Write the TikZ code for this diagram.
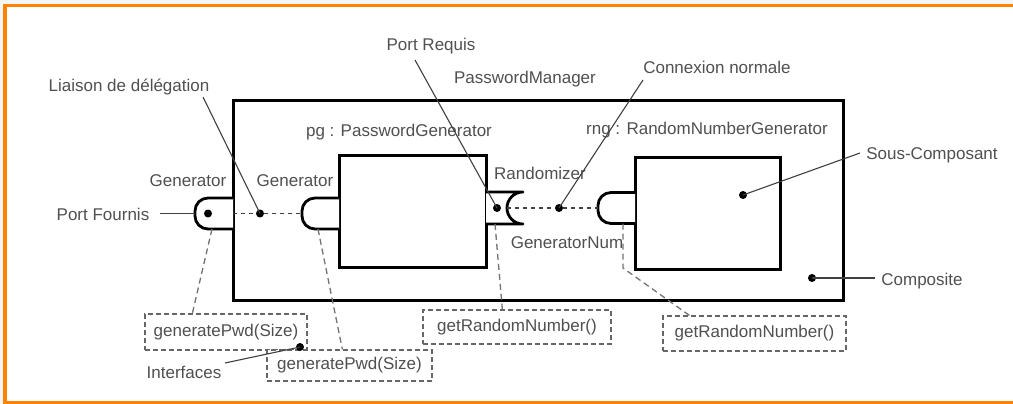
\documentclass[tikz,border=0pt]{standalone}
\usepackage{fontspec}
\newfontfamily\labfont{Liberation Sans}
\definecolor{frameorange}{RGB}{255,130,0}
\definecolor{txtgray}{RGB}{80,80,80}
\tikzset{
  lbl/.style={font=\labfont\fontsize{17}{20}\selectfont, text=txtgray, inner sep=0pt, anchor=base},
  compbox/.style={draw=black, line width=3pt, fill=white, inner sep=0pt},
  portshape/.style={draw=black, line width=2.8pt, fill=white, line join=round},
  ifbox/.style={draw=black!60, line width=1.3pt, dash pattern=on 5pt off 3pt, fill=white,
     font=\labfont\fontsize{17}{20}\selectfont, text=txtgray, inner sep=0pt},
  ifconn/.style={draw=black!55, line width=1.3pt, dash pattern=on 6pt off 4pt},
  portconn/.style={draw=black!75, line width=1.3pt, dash pattern=on 4pt off 4pt},
  leader/.style={draw=black!75, line width=1.1pt},
  blackdot/.style={fill=black, circle, inner sep=0pt, minimum size=8pt},
}
\begin{document}
\begin{tikzpicture}[x=1pt, y=-1pt]
\useasboundingbox (0,0) rectangle (1013,404);
% page frame
\fill[black!4] (0,0) rectangle (1013,404);
\fill[white] (5,5) rectangle (1013,404);
\draw[frameorange, line width=3.5pt] (5,404) -- (5,5.5) -- (1013,5.5);
\draw[frameorange, line width=3.5pt] (5,402.5) -- (1013,402.5);

% composite and sub-components
\node[compbox, minimum width=610pt, minimum height=199pt] (comp) at (538,200.5) {};
\node[compbox, minimum width=147pt, minimum height=112pt] (pg) at (412.5,211) {};
\node[compbox, minimum width=145pt, minimum height=112pt] (rng) at (707.5,213) {};

% ports
\draw[portshape, rounded corners=13pt] (233,198) -- (195,198) -- (195,229) -- (233,229);
\draw[portshape, rounded corners=13pt] (339,198) -- (302,198) -- (302,229) -- (339,229);
\draw[portshape] (486,192) -- (523,192) arc[start angle=270, end angle=90, radius=16] -- (486,224);
\draw[portshape, rounded corners=13pt] (635,192.5) -- (598,192.5) -- (598,223.5) -- (635,223.5);

% named points
\coordinate (pOutL) at (195,213.5);
\coordinate (pOutR) at (233,213.5);
\coordinate (pInL) at (302,213.5);
\coordinate (pOutB) at (212,229);
\coordinate (pInB) at (318,229);
\coordinate (rqC) at (507,208);
\coordinate (rqB) at (495,224);
\coordinate (rngL) at (598,208);
\coordinate (rngB) at (623,223.5);
\coordinate (rngK) at (623,268);

% dots
\node[blackdot] (pOutDot) at (208,213.5) {};
\node[blackdot] (delDot) at (260,213.5) {};
\node[blackdot] (rqDot) at (497,208) {};
\node[blackdot] (conDot) at (559,208) {};
\node[blackdot] (scDot) at (743,195) {};
\node[blackdot] (compDot) at (812,278) {};

% port-to-port dashed connections
\draw[portconn] (pOutR) -- (delDot) -- (pInL);
\draw[portconn] (rqC) -- (conDot) -- (rngL);

% interface boxes
\node[ifbox, minimum width=162pt, minimum height=36pt] (ib1) at (226,332) {generatePwd(Size)};
\node[ifbox, minimum width=165pt, minimum height=31pt] (ib2) at (349.5,365.5) {generatePwd(Size)};
\node[ifbox, minimum width=188pt, minimum height=34pt] (ib3) at (517,327) {getRandomNumber()};
\node[ifbox, minimum width=183pt, minimum height=35pt] (ib4) at (754.5,333.5) {getRandomNumber()};
\node[blackdot] (ifDot) at (300,347) {};

% interface connectors
\draw[ifconn] (pOutB) -- ([xshift=48pt]ib1.north west);
\draw[ifconn] (pInB) -- ([xshift=76pt]ib2.north west);
\draw[ifconn] (rqB) -- ([xshift=80pt]ib3.north west);
\draw[ifconn] (rngB) -- (rngK) -- ([xshift=27pt]ib4.north west);

% labels
\node[lbl] (lLiaison) at (129,92) {Liaison de délégation};
\node[lbl] (lGenOut) at (188,186) {Generator};
\node[lbl] (lGenIn) at (295,186) {Generator};
\node[lbl] (lpg) at (399,136) {pg : PasswordGenerator};
\node[lbl] (lPortReq) at (431,51) {Port Requis};
\node[lbl] (lPM) at (525,84) {PasswordManager};
\node[lbl] (lRand) at (540,179) {Randomizer};
\node[lbl] (lConn) at (717,74) {Connexion normale};
\node[lbl] (lrng) at (707,134) {rng : RandomNumberGenerator};
\node[lbl] (lSous) at (932,159) {Sous-Composant};
\node[lbl] (lComp) at (922,285) {Composite};
\node[lbl] (lPortF) at (103,220) {Port Fournis};
\node[lbl] (lGenNum) at (567,248) {GeneratorNum};
\node[lbl] (lIf) at (184,378) {Interfaces};

% leader ends
\coordinate (eLiaison) at (203,97);
\coordinate (ePortReq) at (415,60);
\coordinate (eConn) at (643,80);
\coordinate (eSous) at (860,153);
\coordinate (eComp) at (875,278);
\coordinate (ePortF) at (160,213.5);
\coordinate (eIf) at (225,363);

\draw[leader] (eLiaison) -- (delDot.center);
\draw[leader] (ePortReq) -- (rqDot.center);
\draw[leader] (eConn) -- (conDot.center);
\draw[leader] (eSous) -- (scDot.center);
\draw[leader] (eComp) -- (compDot.center);
\draw[leader] (ePortF) -- (pOutL);
\draw[leader] (eIf) -- (ifDot.center);
\end{tikzpicture}
\end{document}
